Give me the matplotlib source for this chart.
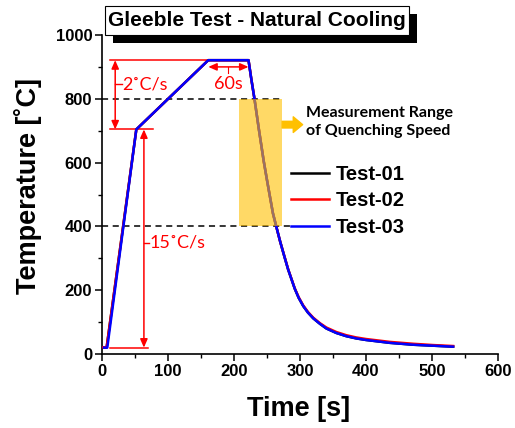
import matplotlib
matplotlib.use("Agg")
import matplotlib.pyplot as plt
from matplotlib.patches import Rectangle
from matplotlib.ticker import MultipleLocator

# ---------------- data ----------------
t_test01 = [0, 2, 7, 52, 161, 222, 226, 231, 238, 245, 250, 255, 259, 264, 270, 276, 282,
            287, 292, 298, 305, 312, 320, 330, 340, 355, 370, 385, 400, 436, 472, 502, 532]
T_test01 = [20, 20, 20, 704, 921, 921, 865, 800, 700, 605, 545, 487, 441, 400, 352, 308, 265,
            235, 205, 176, 150, 130, 112, 95, 80, 66, 56, 49, 44, 35, 29, 26, 23]

t_test02 = [0, 2, 7, 52, 161, 222, 226, 231, 238, 245, 250, 255, 259, 264, 270, 276, 282,
            287, 292, 298, 305, 312, 320, 330, 340, 355, 370, 385, 400, 436, 472, 502, 532]
T_test02 = [21, 21, 21, 704, 921, 921, 865, 800, 700, 605, 545, 487, 441, 400, 352, 309, 266,
            236, 206, 178, 152, 132, 114, 97, 83, 69, 59, 52, 47, 38, 32, 28, 25]

t_test03 = [3, 5, 8, 52, 161, 222, 226, 231, 238, 245, 250, 255, 259, 264, 270, 276, 282,
            287, 292, 298, 305, 312, 320, 330, 340, 355, 370, 385, 400, 436, 472, 502, 532]
T_test03 = [20, 20, 20, 704, 921, 921, 865, 800, 700, 605, 545, 487, 441, 400, 352, 308, 265,
            235, 205, 176, 150, 130, 112, 95, 80, 66, 56, 49, 44, 35, 29, 26, 23]

series_labels = ["Test-01", "Test-02", "Test-03"]
series_colors = ["black", "red", "blue"]

x_ticks = [0, 100, 200, 300, 400, 500, 600]
y_ticks = [0, 200, 400, 600, 800, 1000]

range_low, range_high = 400, 800          # quenching-speed measurement range
range_t0, range_t1 = 207.6, 273.0         # shaded time window

# ---------------- figure ----------------
ARIAL = "Liberation Sans"
CALI = "Lato"

fig = plt.figure(figsize=(5.15, 4.28), dpi=100)
W, H = 515, 428
ax = fig.add_axes([102 / W, 1 - 354 / H, (498 - 102) / W, (354 - 35) / H])

for t, T, c, lab in zip([t_test01, t_test02, t_test03],
                        [T_test01, T_test02, T_test03],
                        series_colors, series_labels):
    ax.plot(t, T, color=c, lw=1.8, label=lab, zorder=3, solid_joinstyle="round")

ax.set_xlim(0, 600)
ax.set_ylim(0, 1000)
ax.set_xticks(x_ticks)
ax.set_yticks(y_ticks)
ax.xaxis.set_minor_locator(MultipleLocator(50))
ax.yaxis.set_minor_locator(MultipleLocator(100))
ax.tick_params(which="major", direction="out", length=5, width=1.1, pad=2)
ax.tick_params(which="minor", direction="out", length=3, width=1.0)
for lbl in ax.get_xticklabels() + ax.get_yticklabels():
    lbl.set_fontfamily(ARIAL)
    lbl.set_fontweight("bold")
    lbl.set_fontsize(12)
for s in ["top", "right"]:
    ax.spines[s].set_visible(False)
for s in ["left", "bottom"]:
    ax.spines[s].set_linewidth(1.2)

ax.set_xlabel("Time [s]", fontfamily=ARIAL, fontweight="bold", fontsize=19.5)
ax.set_ylabel("Temperature [˚C]", fontfamily=ARIAL, fontweight="bold", fontsize=19.5)
ax.xaxis.set_label_coords(0.496, -0.132)
ax.yaxis.set_label_coords(-0.152, 0.528)

# dashed range lines
ax.plot([0, range_t1], [range_high, range_high], ls=(0, (4, 3)), color="black", lw=1.1, zorder=2)
ax.plot([0, 285], [range_low, range_low], ls=(0, (4, 3)), color="black", lw=1.1, zorder=2)

# shaded measurement window (gold, translucent, drawn over the curves)
ax.add_patch(Rectangle((range_t0, range_low), range_t1 - range_t0, range_high - range_low,
                       facecolor="#FFC000", alpha=0.6, edgecolor="none", zorder=4))
ax.annotate("", xy=(304, 719), xytext=(range_t1, 719),
            arrowprops=dict(arrowstyle="simple,head_length=0.45,head_width=0.75,tail_width=0.32",
                            color="#FFC000", mutation_scale=15, shrinkA=0, shrinkB=0), zorder=4)
ax.text(309, 727, "Measurement Range\nof Quenching Speed", fontfamily=CALI, fontweight="bold",
        fontsize=11.5, ha="left", va="center", linespacing=1.3, zorder=5)

# red annotations
red = "red"
ax.plot([12, 161], [921, 921], color=red, lw=1.1, zorder=2)
ax.plot([12, 77], [704, 704], color=red, lw=1.1, zorder=2)
ax.plot([12, 70], [20, 20], color=red, lw=1.1, zorder=2)
arr = dict(arrowstyle="<|-|>,head_length=0.5,head_width=0.22", color=red, lw=1.1,
           shrinkA=0, shrinkB=0, mutation_scale=10)
ax.annotate("", xy=(20, 921), xytext=(20, 704), arrowprops=arr)
ax.annotate("", xy=(63.5, 704), xytext=(63.5, 20), arrowprops=arr)
ax.annotate("", xy=(161, 900), xytext=(222, 900), arrowprops=arr)
ax.plot([191, 191], [900, 880], color=red, lw=0.8)
ax.plot([20, 30], [845, 845], color=red, lw=1.0)
ax.plot([63.5, 71], [348, 348], color=red, lw=1.0)
ax.text(31, 845, "2˚C/s", color=red, fontfamily=CALI, fontsize=13, ha="left", va="center")
ax.text(72, 348, "15˚C/s", color=red, fontfamily=CALI, fontsize=13, ha="left", va="center")
ax.text(191, 846, "60s", color=red, fontfamily=CALI, fontsize=13, ha="center", va="center")

# legend
leg = ax.legend(loc="upper left", bbox_to_anchor=((291 - 102) / 396, (354 - 165) / 319),
                frameon=False, prop=dict(family=ARIAL, weight="bold", size=14.5),
                handlelength=1.9, handletextpad=0.3, labelspacing=0.37, borderpad=0,
                borderaxespad=0)
for ln in leg.get_lines():
    ln.set_linewidth(1.8)

# title box with drop shadow
fig.patches.append(Rectangle((113 / W, 1 - 43 / H), 304 / W, 29 / H, transform=fig.transFigure,
                             facecolor="black", edgecolor="none", zorder=5))
fig.patches.append(Rectangle((105 / W, 1 - 35 / H), 304 / W, 29 / H, transform=fig.transFigure,
                             facecolor="white", edgecolor="black", lw=0.8, zorder=6))
fig.text(257 / W, 1 - 21 / H, "Gleeble Test - Natural Cooling", fontfamily=ARIAL,
         fontweight="bold", fontsize=15, ha="center", va="center", zorder=7)

fig.savefig("out.png", dpi=100)
